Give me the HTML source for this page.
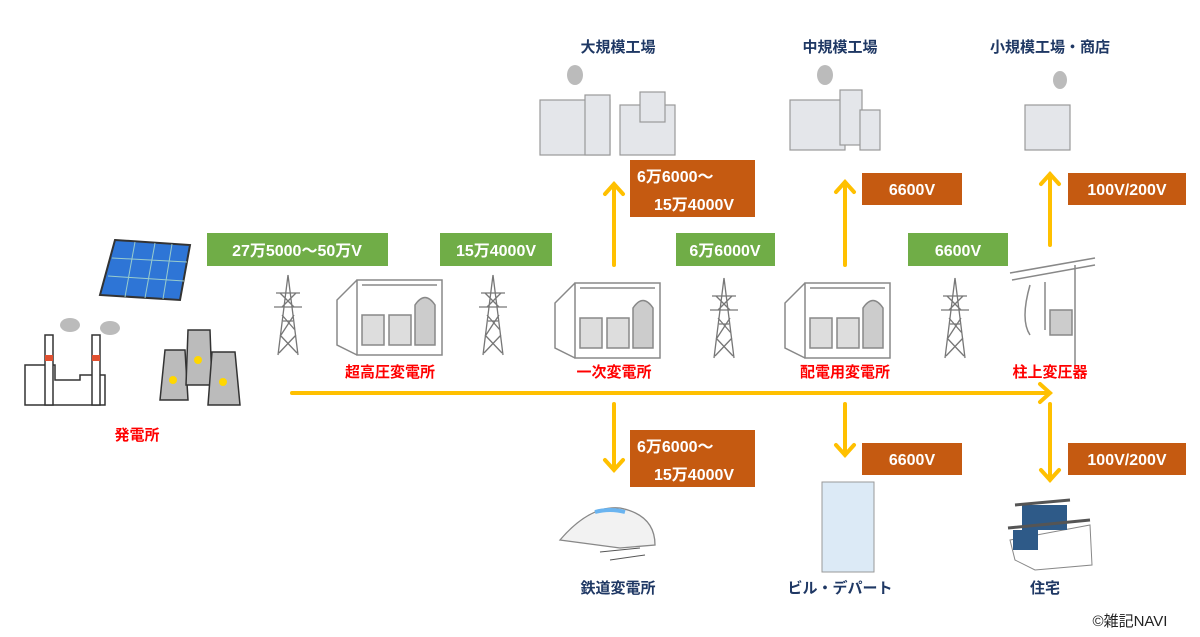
<!DOCTYPE html>
<html><head><meta charset="utf-8"><style>
body{margin:0;width:1200px;height:637px;background:#fff;overflow:hidden;font-family:"Liberation Sans","Noto Sans CJK JP",sans-serif;}
svg{position:absolute;left:0;top:0}
.l{font-weight:bold;font-size:15px;font-family:"Liberation Sans","Noto Sans CJK JP",sans-serif}
.n{fill:#1f3864}.r{fill:#ff0000}.w{fill:#fff;font-size:16px}
</style></head><body>
<svg width="1200" height="637" viewBox="0 0 1200 637">
<defs>
<g id="tower" stroke="#777" stroke-width="1.3" fill="none">
<path d="M0 0 L-10 80 M0 0 L10 80 M-12 18 L12 18 M-14 32 L14 32 M-8 18 L6 32 M8 18 L-6 32 M-6 40 L7 55 M6 40 L-7 60 M-8 60 L9 78 M8 60 L-9 78 M-5 46 L5 46"/>
</g>
<g id="sub" stroke="#888" stroke-width="1.5" fill="none">
<path d="M20 0 L105 0 L105 75 L20 75 Z M20 0 L0 20 L0 65 L20 75 M25 5 L100 5"/>
<rect x="25" y="35" width="22" height="30" fill="#ddd"/><rect x="52" y="35" width="22" height="30" fill="#ddd"/>
<path d="M78 65 L78 25 Q88 10 98 25 L98 65 Z" fill="#ccc"/>
</g>
</defs>
<!-- arrows -->
<g stroke="#ffc000" stroke-width="4" fill="none" stroke-linecap="round">
<path d="M292 393 L1050 393 M1040 384 L1050 393 L1040 402"/>
<path d="M614 265 L614 184 M605 194 L614 184 L623 194"/>
<path d="M845 265 L845 182 M836 192 L845 182 L854 192"/>
<path d="M1050 245 L1050 174 M1041 184 L1050 174 L1059 184"/>
<path d="M614 404 L614 470 M605 460 L614 470 L623 460"/>
<path d="M845 404 L845 455 M836 445 L845 455 L854 445"/>
<path d="M1050 404 L1050 480 M1041 470 L1050 480 L1059 470"/>
</g>
<!-- boxes -->
<rect x="207" y="233" width="181" height="33" fill="#70ad47"/>
<rect x="440" y="233" width="112" height="33" fill="#70ad47"/>
<rect x="676" y="233" width="99" height="33" fill="#70ad47"/>
<rect x="908" y="233" width="100" height="33" fill="#70ad47"/>
<rect x="630" y="160" width="125" height="57" fill="#c55a11"/>
<rect x="862" y="173" width="100" height="32" fill="#c55a11"/>
<rect x="1068" y="173" width="118" height="32" fill="#c55a11"/>
<rect x="630" y="430" width="125" height="57" fill="#c55a11"/>
<rect x="862" y="443" width="100" height="32" fill="#c55a11"/>
<rect x="1068" y="443" width="118" height="32" fill="#c55a11"/>
<g class="l w">
<text x="297" y="256" text-anchor="middle">27万5000～50万V</text>
<text x="496" y="256" text-anchor="middle">15万4000V</text>
<text x="725" y="256" text-anchor="middle">6万6000V</text>
<text x="958" y="256" text-anchor="middle">6600V</text>
<text x="637" y="182">6万6000～</text><text x="654" y="210">15万4000V</text>
<text x="912" y="195" text-anchor="middle">6600V</text>
<text x="1127" y="195" text-anchor="middle">100V/200V</text>
<text x="637" y="452">6万6000～</text><text x="654" y="480">15万4000V</text>
<text x="912" y="465" text-anchor="middle">6600V</text>
<text x="1127" y="465" text-anchor="middle">100V/200V</text>
</g>
<!-- labels -->
<g class="l">
<text class="n" x="618" y="52" text-anchor="middle">大規模工場</text>
<text class="n" x="840" y="52" text-anchor="middle">中規模工場</text>
<text class="n" x="1050" y="52" text-anchor="middle">小規模工場・商店</text>
<text class="r" x="390" y="377" text-anchor="middle">超高圧変電所</text>
<text class="r" x="614" y="377" text-anchor="middle">一次変電所</text>
<text class="r" x="845" y="377" text-anchor="middle">配電用変電所</text>
<text class="r" x="1050" y="377" text-anchor="middle">柱上変圧器</text>
<text class="r" x="137" y="440" text-anchor="middle">発電所</text>
<text class="n" x="618" y="593" text-anchor="middle">鉄道変電所</text>
<text class="n" x="840" y="593" text-anchor="middle">ビル・デパート</text>
<text class="n" x="1045" y="593" text-anchor="middle">住宅</text>
</g>
<text x="1130" y="626" text-anchor="middle" font-size="15" fill="#222">©雑記NAVI</text>
<!-- towers -->
<use href="#tower" x="288" y="275"/><use href="#tower" x="493" y="275"/><use href="#tower" x="724" y="278"/><use href="#tower" x="955" y="278"/>
<use href="#sub" x="337" y="280"/><use href="#sub" x="555" y="283"/><use href="#sub" x="785" y="283"/>
<!-- pole -->
<g stroke="#888" stroke-width="1.5" fill="none"><path d="M1010 273 L1095 258 M1012 280 L1095 265 M1075 265 L1075 365 M1030 285 Q1020 320 1030 335 M1045 282 L1045 330"/><rect x="1050" y="310" width="22" height="25" fill="#ccc"/></g>
<!-- solar -->
<path d="M115 240 L190 245 L180 300 L100 295 Z" fill="#2e75d6" stroke="#333" stroke-width="2"/>
<g stroke="#9cc" stroke-width="1"><path d="M112 258 L187 262 M108 276 L184 281 M135 242 L125 297 M155 243 L145 298 M172 244 L163 299"/></g>
<!-- power plant -->
<g stroke="#333" stroke-width="1.5" fill="#fff"><path d="M25 405 L25 365 L55 365 L55 380 L80 380 L80 375 L105 375 L105 405 Z"/>
<rect x="45" y="335" width="8" height="70"/><rect x="92" y="335" width="8" height="70"/></g>
<rect x="45" y="355" width="8" height="6" fill="#e05030"/><rect x="92" y="355" width="8" height="6" fill="#e05030"/>
<ellipse cx="70" cy="325" rx="10" ry="7" fill="#bbb"/><ellipse cx="110" cy="328" rx="10" ry="7" fill="#bbb"/>
<g fill="#bbb" stroke="#333" stroke-width="1.5"><path d="M165 350 L185 350 L188 400 L160 400 Z"/><path d="M188 330 L210 330 L212 385 L186 385 Z"/><path d="M212 352 L235 352 L240 405 L208 405 Z"/></g>
<g fill="#ffd700"><circle cx="173" cy="380" r="4"/><circle cx="198" cy="360" r="4"/><circle cx="223" cy="382" r="4"/></g>
<!-- factories -->
<g fill="#e4e6ea" stroke="#999" stroke-width="1.2">
<rect x="540" y="100" width="70" height="55"/><rect x="585" y="95" width="25" height="60"/><rect x="620" y="105" width="55" height="50"/><rect x="640" y="92" width="25" height="30"/>
<rect x="790" y="100" width="55" height="50"/><rect x="840" y="90" width="22" height="55"/><rect x="860" y="110" width="20" height="40"/>
<rect x="1025" y="105" width="45" height="45"/></g>
<g fill="#bbb"><ellipse cx="575" cy="75" rx="8" ry="10"/><ellipse cx="825" cy="75" rx="8" ry="10"/><ellipse cx="1060" cy="80" rx="7" ry="9"/></g>
<!-- train -->
<path d="M560 540 Q590 505 620 508 Q655 515 655 545 L620 548 Z" fill="#f2f2f2" stroke="#888" stroke-width="1.3"/>
<path d="M595 512 Q610 508 625 512" stroke="#6ab4f0" stroke-width="4" fill="none"/>
<path d="M600 552 L640 548 M610 560 L645 555" stroke="#555"/>
<!-- building -->
<rect x="822" y="482" width="52" height="90" fill="#dceaf6" stroke="#999"/>
<!-- house -->
<path d="M1010 540 L1090 525 L1092 565 L1035 570 L1015 560 Z" fill="#fff" stroke="#888"/>
<rect x="1013" y="530" width="25" height="20" fill="#2e5a88"/><rect x="1022" y="505" width="45" height="25" fill="#2e5a88"/>
<path d="M1015 505 L1070 500 M1008 528 L1090 520" stroke="#555" stroke-width="3"/>
</svg>
</body></html>
